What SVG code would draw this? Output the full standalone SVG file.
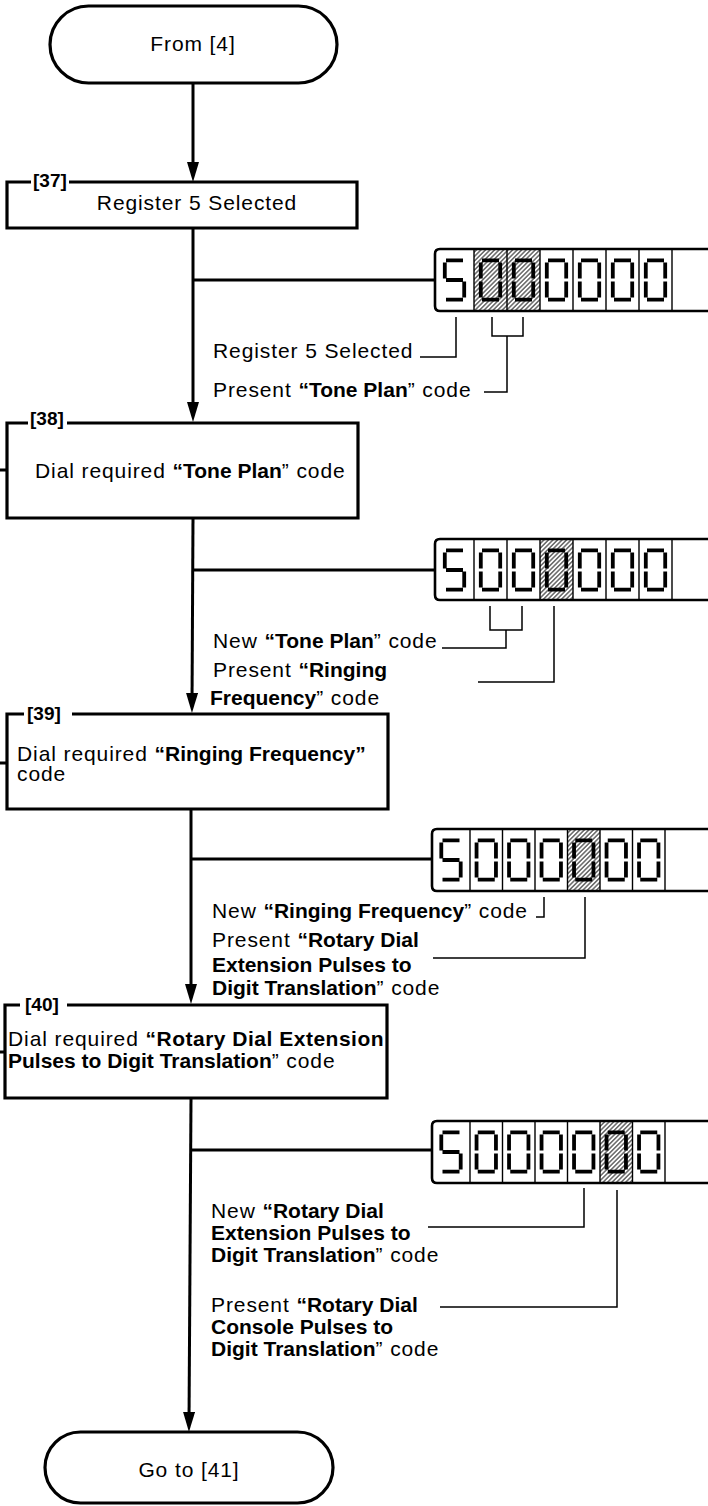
<svg xmlns="http://www.w3.org/2000/svg" width="708" height="1506" viewBox="0 0 708 1506">
<style>
.t{font-family:"Liberation Sans",Arial,Helvetica,sans-serif;font-size:21px;letter-spacing:0.9px;fill:#000}
.b{font-weight:bold;letter-spacing:0}
.n{font-family:"Liberation Sans",Arial,sans-serif;font-size:19px;font-weight:bold;fill:#000}
.box{fill:none;stroke:#000;stroke-width:3.2}
.term{fill:#fff;stroke:#000;stroke-width:3.2}
.flow{fill:none;stroke:#000;stroke-width:3}
.lead{fill:none;stroke:#000;stroke-width:1.5}
.dfill{fill:#fff;stroke:none}
.dline{fill:none;stroke:#000;stroke-width:2.6}
.cell{fill:none;stroke:#000;stroke-width:1.4}
.seg{fill:none;stroke:#000;stroke-width:3.8;stroke-linecap:butt}
</style>
<defs>
<marker id="ah" markerUnits="userSpaceOnUse" markerWidth="20" markerHeight="12" viewBox="0 0 20 12" refX="12" refY="6" orient="auto"><path d="M0,0 L20,6 L0,12 Z" fill="#000"/></marker>
<pattern id="hatch" patternUnits="userSpaceOnUse" width="3.2" height="3.2" patternTransform="rotate(45)"><line x1="1.6" y1="0" x2="1.6" y2="3.2" stroke="#000" stroke-width="0.9"/></pattern>
<path id="d0" class="seg" d="M3,1.8H20M21.2,4V20M21.2,23V39M3,41.2H20M1.8,23V39M1.8,4V20"/>
<path id="d5" class="seg" d="M3,1.8H20M1.8,4V20M3,21.5H20M21.2,23V39M3,41.2H20"/>
</defs>

<g id="connectors">
<path class="flow" d="M193,83 V174" marker-end="url(#ah)"/>
<path class="flow" d="M193,228 V414" marker-end="url(#ah)"/>
<path class="flow" d="M193,280 H435"/>
<path class="flow" d="M193,518 L192,705" marker-end="url(#ah)"/>
<path class="flow" d="M193,570 H435"/>
<path class="flow" d="M191,809 V996" marker-end="url(#ah)"/>
<path class="flow" d="M191,859 H432"/>
<path class="flow" d="M191,1098 L189,1424" marker-end="url(#ah)"/>
<path class="flow" d="M191,1150 H432"/>
<path class="flow" d="M0,470 H7 M0,763 H7 M0,1052 H5"/>
<path class="lead" d="M420,357 H456 V317"/>
<path class="lead" d="M492,317 V336 H523 V317 M507,336 V392 H484"/>
<path class="lead" d="M442,648 H506 V630 M490,606 V630 H522 V606"/>
<path class="lead" d="M478,682 H554 V606"/>
<path class="lead" d="M536,917 H544 V897"/>
<path class="lead" d="M433,958 H585 V897"/>
<path class="lead" d="M428,1227 H584 V1188"/>
<path class="lead" d="M440,1307 H617 V1190"/>
</g>

<g id="start">
<rect class="term" x="50" y="6" width="287" height="77" rx="38.5"/>
<text class="t" x="193" y="51" text-anchor="middle">From [4]</text>
</g>

<g id="step37">
<path class="box" d="M31,182 H7 V228 H357 V182 H69"/>
<text class="n" x="33" y="187">[37]</text>
<text class="t" x="197" y="210" text-anchor="middle">Register 5 Selected</text>
</g>

<g id="display1">
<path class="dfill" d="M712,249 H440 Q435,249 435,254 V306 Q435,311 440,311 H712 Z"/>
<rect x="474" y="250" width="66" height="60" fill="url(#hatch)"/>
<path class="cell" d="M474,249V311M507,249V311M540,249V311M573,249V311M606,249V311M639,249V311M672,249V311"/>
<use href="#d5" x="443" y="258.5"/><use href="#d0" x="479" y="258.5"/><use href="#d0" x="512" y="258.5"/><use href="#d0" x="545" y="258.5"/><use href="#d0" x="578" y="258.5"/><use href="#d0" x="611" y="258.5"/><use href="#d0" x="644" y="258.5"/>
<path class="dline" d="M712,249 H440 Q435,249 435,254 V306 Q435,311 440,311 H712"/>
</g>

<g id="notes1">
<text class="t" x="213" y="358">Register 5 Selected</text>
<text class="t" x="213" y="397">Present <tspan class="b">“Tone Plan</tspan>” code</text>
</g>

<g id="step38">
<path class="box" d="M28,423 H7 V518 H358 V423 H67"/>
<text class="n" x="30" y="425">[38]</text>
<text class="t" x="35" y="478">Dial required <tspan class="b">“Tone Plan</tspan>” code</text>
</g>

<g id="display2">
<path class="dfill" d="M712,539 H440 Q435,539 435,544 V595 Q435,600 440,600 H712 Z"/>
<rect x="540" y="540" width="33" height="59" fill="url(#hatch)"/>
<path class="cell" d="M474,539V600M507,539V600M540,539V600M573,539V600M606,539V600M639,539V600M672,539V600"/>
<use href="#d5" x="443" y="548.5"/><use href="#d0" x="479" y="548.5"/><use href="#d0" x="512" y="548.5"/><use href="#d0" x="545" y="548.5"/><use href="#d0" x="578" y="548.5"/><use href="#d0" x="611" y="548.5"/><use href="#d0" x="644" y="548.5"/>
<path class="dline" d="M712,539 H440 Q435,539 435,544 V595 Q435,600 440,600 H712"/>
</g>

<g id="notes2">
<text class="t" x="213" y="648">New <tspan class="b">“Tone Plan</tspan>” code</text>
<text class="t" x="213" y="677">Present <tspan class="b">“Ringing</tspan></text>
<text class="t" x="210" y="705"><tspan class="b">Frequency</tspan>” code</text>
</g>

<g id="step39">
<path class="box" d="M24,714 H7 V809 H388 V714 H72"/>
<text class="n" x="27" y="720">[39]</text>
<text class="t" x="17" y="761">Dial required <tspan class="b">“Ringing Frequency”</tspan></text>
<text class="t" x="17" y="781">code</text>
</g>

<g id="display3">
<path class="dfill" d="M712,829 H437 Q432,829 432,834 V886 Q432,891 437,891 H712 Z"/>
<rect x="567.5" y="830" width="32.5" height="60" fill="url(#hatch)"/>
<path class="cell" d="M470,829V891M502.5,829V891M535,829V891M567.5,829V891M600,829V891M632.5,829V891M665,829V891"/>
<use href="#d5" x="439.5" y="838.5"/><use href="#d0" x="474.75" y="838.5"/><use href="#d0" x="507.25" y="838.5"/><use href="#d0" x="539.75" y="838.5"/><use href="#d0" x="572.25" y="838.5"/><use href="#d0" x="604.75" y="838.5"/><use href="#d0" x="637.25" y="838.5"/>
<path class="dline" d="M712,829 H437 Q432,829 432,834 V886 Q432,891 437,891 H712"/>
</g>

<g id="notes3">
<text class="t" x="212" y="918">New <tspan class="b">“Ringing Frequency</tspan>” code</text>
<text class="t" x="212" y="947">Present <tspan class="b">“Rotary Dial</tspan></text>
<text class="t" x="212" y="972"><tspan class="b">Extension Pulses to</tspan></text>
<text class="t" x="212" y="995"><tspan class="b">Digit Translation</tspan>” code</text>
</g>

<g id="step40">
<text class="t" x="8" y="1046">Dial required <tspan class="b" style="letter-spacing:0.5px">“Rotary Dial Extension</tspan></text>
<text class="t" x="8" y="1068"><tspan class="b">Pulses to Digit Translation</tspan>” code</text>
<path class="box" d="M20,1005 H5 V1098 H387 V1005 H67"/>
<text class="n" x="25" y="1011">[40]</text>
</g>

<g id="display4">
<path class="dfill" d="M712,1121 H437 Q432,1121 432,1126 V1178 Q432,1183 437,1183 H712 Z"/>
<rect x="600" y="1122" width="32.5" height="60" fill="url(#hatch)"/>
<path class="cell" d="M470,1121V1183M502.5,1121V1183M535,1121V1183M567.5,1121V1183M600,1121V1183M632.5,1121V1183M665,1121V1183"/>
<use href="#d5" x="439.5" y="1130.5"/><use href="#d0" x="474.75" y="1130.5"/><use href="#d0" x="507.25" y="1130.5"/><use href="#d0" x="539.75" y="1130.5"/><use href="#d0" x="572.25" y="1130.5"/><use href="#d0" x="604.75" y="1130.5"/><use href="#d0" x="637.25" y="1130.5"/>
<path class="dline" d="M712,1121 H437 Q432,1121 432,1126 V1178 Q432,1183 437,1183 H712"/>
</g>

<g id="notes4">
<text class="t" x="211" y="1218">New <tspan class="b">“Rotary Dial</tspan></text>
<text class="t" x="211" y="1240"><tspan class="b">Extension Pulses to</tspan></text>
<text class="t" x="211" y="1262"><tspan class="b">Digit Translation</tspan>” code</text>
<text class="t" x="211" y="1312">Present <tspan class="b">“Rotary Dial</tspan></text>
<text class="t" x="211" y="1334"><tspan class="b">Console Pulses to</tspan></text>
<text class="t" x="211" y="1356"><tspan class="b">Digit Translation</tspan>” code</text>
</g>

<g id="end">
<rect class="term" x="45" y="1432" width="288" height="71" rx="35.5"/>
<text class="t" x="189" y="1477" text-anchor="middle">Go to [41]</text>
</g>
</svg>
